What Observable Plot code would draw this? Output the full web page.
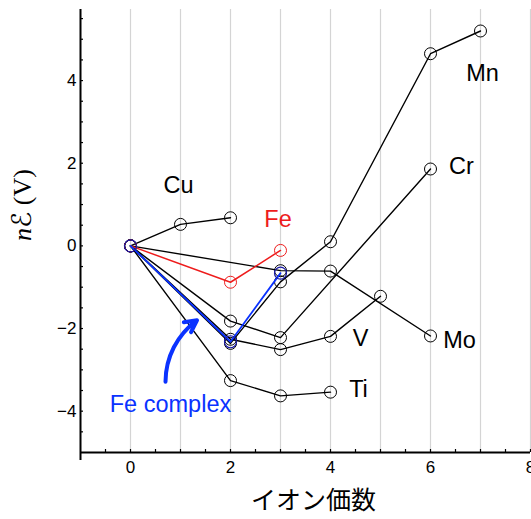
<!DOCTYPE html>
<html><head><meta charset="utf-8">
<script src="https://cdn.jsdelivr.net/npm/d3@7"></script>
<script src="https://cdn.jsdelivr.net/npm/@observablehq/plot@0.6"></script>
<style>body{margin:0;overflow:hidden;background:#fff}</style>
</head><body><div id="chart"></div>
<script>
// ---- data (ion valence n, nE in V) ----
const cuN = [0, 1, 2];             const cuE = [0, 0.52, 0.68];
const feN = [0, 2, 3];             const feE = [0, -0.88, -0.11];
const fecN = [0, 2, 3];            const fecE = [0, -2.32, -0.66];
const mnN = [0, 2, 3, 4, 6, 7];    const mnE = [0, -2.36, -0.87, 0.1, 4.65, 5.2];
const crN = [0, 2, 3, 6];          const crE = [0, -1.82, -2.22, 1.86];
const vN  = [0, 2, 3, 4, 5];       const vE  = [0, -2.26, -2.51, -2.19, -1.22];
const tiN = [0, 2, 3, 4];          const tiE = [0, -3.26, -3.63, -3.54];
const moN = [0, 3, 4, 6];          const moE = [0, -0.6, -0.61, -2.18];

const xTicks = [0, 2, 4, 6, 8];
const yTicks = [-4, -2, 0, 2, 4];
const xLabel = "イオン価数";
const yLabel = "nℰ (V)";

// label annotations (name, x, y)
const labelNames = ["Cu", "Fe", "Mn", "Cr", "V", "Mo", "Ti", "Fe complex"];
const labelX = [0.96, 2.95, 7.04, 6.62, 4.6, 6.58, 4.56, 0.8];
const labelY = [1.45, 0.63, 4.18, 1.91, -2.23, -2.28, -3.47, -3.83];
const arrowFrom = [0.7, -3.29];
const arrowTo = [1.33, -1.8];

const BLACK = "#000000", RED = "#ee1c1c", BLUE = "#0a32ff";
const toRows = (name, ns, es) => ns.map((n, i) => ({name, n, e: es[i]}));
const blackSeries = [
  ...toRows("Cu", cuN, cuE), ...toRows("Mn", mnN, mnE), ...toRows("Cr", crN, crE),
  ...toRows("V", vN, vE), ...toRows("Ti", tiN, tiE), ...toRows("Mo", moN, moE)
];
const feRows = toRows("Fe", feN, feE);
const fecRows = toRows("Fe complex", fecN, fecE);
const labels = labelNames.map((t, i) => ({t, x: labelX[i], y: labelY[i],
  c: t === "Fe" ? RED : t === "Fe complex" ? BLUE : BLACK}));

const W = 531, H = 519, mL = 80, mR = 1, mT = 9, mB = 67;
const fw = W - mL - mR, fh = H - mT - mB;
const minorX = d3.range(-0.5, 8.01, 0.5);
const minorY = d3.range(-4.5, 5.51, 0.5);
const fmt = d => d < 0 ? "\u2212" + (-d) : String(d);

const plot = Plot.plot({
  width: W, height: H,
  marginLeft: mL, marginRight: mR, marginTop: mT, marginBottom: mB,
  x: {domain: [-1, 8], axis: null},
  y: {domain: [-5, 5.72], axis: null},
  style: {fontFamily: "'Liberation Sans', Arial, sans-serif", color: "#000"},
  marks: [
    Plot.ruleX(d3.range(0, 9), {stroke: "#d4d4d4", strokeWidth: 1.2}),
    Plot.ruleX(minorX, {insetTop: fh - 3, stroke: BLACK, strokeWidth: 1.2}),
    Plot.ruleY(minorY, {insetRight: fw - 3, stroke: BLACK, strokeWidth: 1.2}),
    Plot.ruleX([-1], {stroke: BLACK, strokeWidth: 2, insetBottom: -8}),
    Plot.ruleY([-5], {stroke: BLACK, strokeWidth: 2}),
    Plot.axisX(xTicks, {tickSize: 0, tickPadding: 8, fontSize: 17, tickFormat: fmt, label: null}),
    Plot.axisY(yTicks, {tickSize: 0, tickPadding: 4, fontSize: 17, tickFormat: fmt, label: null}),
    Plot.text([xLabel], {frameAnchor: "bottom", dx: 8, dy: 56, fontSize: 25,
      fontFamily: "'Noto Sans CJK JP', sans-serif"}),
    Plot.text([yLabel], {frameAnchor: "left", rotate: -90, dx: -58, dy: 10, fontSize: 26,
      fontFamily: "'Liberation Serif', 'DejaVu Serif', serif"}),
    Plot.line(blackSeries, {x: "n", y: "e", z: "name", stroke: BLACK, strokeWidth: 1.4}),
    Plot.dot(blackSeries, {x: "n", y: "e", r: 6, stroke: BLACK, strokeWidth: 1, fill: "none"}),
    Plot.line(feRows, {x: "n", y: "e", stroke: RED, strokeWidth: 1.5}),
    Plot.dot(feRows, {x: "n", y: "e", r: 6, stroke: RED, strokeWidth: 1, fill: "none"}),
    Plot.line(fecRows, {x: "n", y: "e", stroke: BLUE, strokeWidth: 1.8}),
    Plot.dot(fecRows, {x: "n", y: "e", r: 6, stroke: "#1a1aa8", strokeWidth: 1.2, fill: "none"}),
    Plot.text(labels, {x: "x", y: "y", text: "t", fill: "c", fontSize: 23.5}),
    Plot.arrow([{x1: arrowFrom[0], y1: arrowFrom[1], x2: arrowTo[0], y2: arrowTo[1]}],
      {x1: "x1", y1: "y1", x2: "x2", y2: "y2", bend: 27, stroke: BLUE, strokeWidth: 4,
       headLength: 5, headAngle: 55})
  ]
});

// italic "n" and a script E in the y label
d3.select(plot).selectAll("text").filter(function() { return this.textContent === yLabel; })
  .each(function() {
    const t = d3.select(this);
    t.text(null);
    t.append("tspan").attr("font-style", "italic").text("n");
    t.append("tspan").attr("font-family", "'DejaVu Sans', sans-serif").attr("font-size", 27).text("ℰ");
    t.append("tspan").text(" (V)");
  });

document.getElementById("chart").appendChild(plot);
</script>
</body></html>
